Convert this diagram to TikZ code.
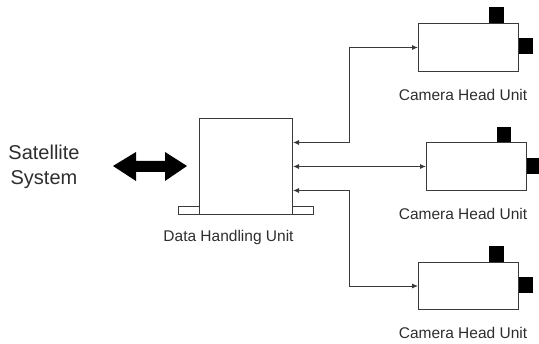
\documentclass[tikz,border=0pt]{standalone}
\usepackage{fontspec}
\setmainfont{Liberation Sans}
\usetikzlibrary{arrows.meta}
\definecolor{linec}{HTML}{3A3A3A}
\definecolor{textc}{HTML}{2E2E2E}
\begin{document}
\begin{tikzpicture}[x=1pt,y=-1pt,
  box/.style={draw=linec, line width=1pt, fill=white, inner sep=0pt, anchor=north west},
  sq/.style={fill=black, draw=none, inner sep=0pt, anchor=north west, minimum width=15pt, minimum height=16pt},
  lbl/.style={text=textc, font=\fontsize{15.5}{18}\selectfont, inner sep=0pt},
  conn/.style={draw=linec, line width=0.9pt, {Latex[length=6pt,width=5pt]}-{Latex[length=6pt,width=5pt]}}]
\useasboundingbox (0,0) rectangle (539,344);
% Data handling unit
\node[box, minimum width=21pt, minimum height=8pt] (footl) at (178,206) {};
\node[box, minimum width=21pt, minimum height=8pt] (footr) at (292,206) {};
\node[box, minimum width=93pt, minimum height=96pt] (dhu) at (199,118) {};
\node[lbl] (dhul) at (228.5,237) {Data Handling Unit};
% Satellite
\node[lbl, font=\fontsize{20}{25}\selectfont, align=center] (sat) at (44,167) {Satellite\\System};
\fill[black] (113,166) -- (136,152) -- (136,161) -- (165,161) -- (165,152) -- (187,166)
  -- (165,181) -- (165,172) -- (136,172) -- (136,181) -- cycle;
% Cameras
\node[sq] (c1t) at (489,7) {};
\node[sq] (c1r) at (518,38) {};
\node[box, minimum width=100pt, minimum height=48pt] (cam1) at (418,23) {};
\node[lbl] (cam1l) at (463,95) {Camera Head Unit};

\node[sq, minimum width=14pt] (c2t) at (497,127) {};
\node[sq, minimum width=14pt] (c2r) at (526,158) {};
\node[box, minimum width=100pt, minimum height=48pt] (cam2) at (426,142) {};
\node[lbl] (cam2l) at (463,214) {Camera Head Unit};

\node[sq] (c3t) at (489,246) {};
\node[sq] (c3r) at (518,277) {};
\node[box, minimum width=100pt, minimum height=47pt] (cam3) at (418,262) {};
\node[lbl] (cam3l) at (463,333) {Camera Head Unit};
% connectors
\draw[conn] ([yshift=24pt]dhu.east) -- ++(56,0) |- (cam1.west);
\draw[conn] (dhu.east) -- (dhu.east -| cam2.west);
\draw[conn] ([yshift=-24pt]dhu.east) -- ++(56,0) |- (cam3.west);
\end{tikzpicture}
\end{document}
